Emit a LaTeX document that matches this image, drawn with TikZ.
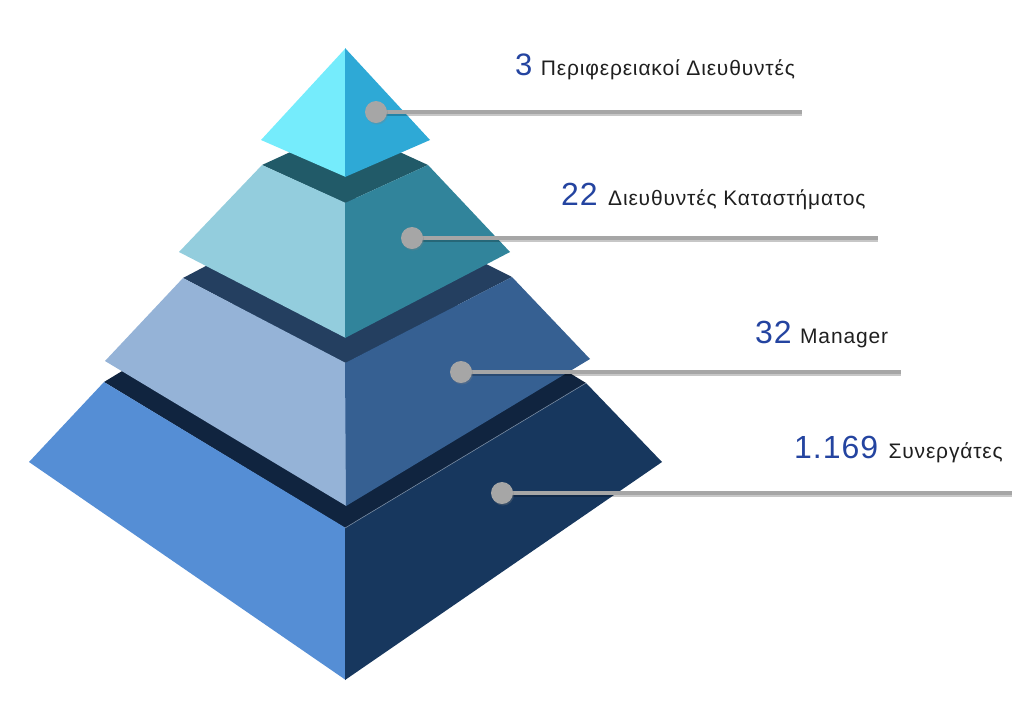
\documentclass[tikz,border=0pt]{standalone}
\usepackage{fontspec}
\setmainfont{Liberation Sans}
\newfontfamily\lblfont[LetterSpace=4]{Liberation Sans}
\newfontfamily\numfont[LetterSpace=3]{Liberation Sans}
\usetikzlibrary{shadows}
\definecolor{tAl}{HTML}{75ECFC}
\definecolor{tAr}{HTML}{2EA9D6}
\definecolor{tBt}{HTML}{215A68}
\definecolor{tBl}{HTML}{93CDDD}
\definecolor{tBr}{HTML}{31849B}
\definecolor{tCt}{HTML}{243F60}
\definecolor{tCl}{HTML}{95B3D7}
\definecolor{tCr}{HTML}{366092}
\definecolor{tDt}{HTML}{10243F}
\definecolor{tDl}{HTML}{558ED5}
\definecolor{tDr}{HTML}{17375E}
\definecolor{numblue}{HTML}{2444A0}
\definecolor{leader}{HTML}{A6A6A6}
\begin{document}
\begin{tikzpicture}[x=1pt,y=-1pt,
  dot/.style={circle,fill=leader,minimum size=22pt,inner sep=0pt,
    drop shadow={opacity=0.3,shadow xshift=1pt,shadow yshift=-1.5pt}},
  leaderline/.style={draw=leader,line width=4pt},
  leadershadow/.style={draw=black,opacity=0.22,line width=4pt},
  numtxt/.style={font=\numfont\fontsize{32}{32}\selectfont,text=numblue,inner sep=0pt,anchor=base west},
  lbltxt/.style={font=\lblfont\fontsize{21}{21}\selectfont,text=black!88,inner sep=0pt,anchor=base west}]
\useasboundingbox (0,0) rectangle (1024,702);
% tier 4
\fill[tDt] (104,382) -- (345,236) -- (586,383) -- (345,528) -- cycle;
\fill[tDl] (104,382) -- (345.8,528) -- (345.8,680) -- (29,462) -- cycle;
\fill[tDr] (345,528) -- (586,383) -- (662,462) -- (345,680) -- cycle;
\draw[tDr!60!white,line width=0.6pt] (345,528) -- (586,383);
% tier 3
\fill[tCt] (183,278) -- (345,193) -- (512,277) -- (345,363) -- cycle;
\fill[tCl] (183,278) -- (345.8,363) -- (346.3,506) -- (105,361) -- cycle;
\fill[tCr] (345,363) -- (512,277) -- (590,359) -- (346,506) -- cycle;
% tier 2
\fill[tBt] (262,165) -- (345,127) -- (428,165) -- (345,203) -- cycle;
\fill[tBl] (262,165) -- (345.8,203) -- (345.8,338) -- (179,252) -- cycle;
\fill[tBr] (345,203) -- (428,165) -- (510,252) -- (345,338) -- cycle;
% tier 1
\fill[tAl] (345.8,48) -- (345.8,177) -- (261,140) -- cycle;
\fill[tAr] (345,48) -- (430,140) -- (345,177) -- cycle;
% leaders
\coordinate (e1) at (802,112);
\coordinate (e2) at (878,238);
\coordinate (e3) at (901,372);
\coordinate (e4) at (1012,493);
\coordinate (s1) at (376,112);
\coordinate (s2) at (412,238);
\coordinate (s3) at (461,372);
\coordinate (s4) at (502,493);
\foreach \i in {1,...,4}{
  \draw[leadershadow] ([yshift=-1.8pt]s\i) -- ([yshift=-1.8pt]e\i);
  \draw[leaderline] (s\i) -- (e\i);
}
\node[dot] (c1) at (s1) {};
\node[dot] (c2) at (s2) {};
\node[dot] (c3) at (s3) {};
\node[dot] (c4) at (s4) {};
% texts
\node[numtxt,font=\numfont\fontsize{31}{31}\selectfont] (n1) at (515,75) {3};
\node[lbltxt] (l1) at ([xshift=8pt]n1.base east) {Περιφερειακοί Διευθυντές};
\node[numtxt] (n2) at (561,205) {22};
\node[lbltxt] (l2) at ([xshift=10pt]n2.base east) {Διευθυντές Καταστήματος};
\node[numtxt] (n3) at (755,343) {32};
\node[lbltxt] (l3) at ([xshift=8pt]n3.base east) {Manager};
\node[numtxt] (n4) at (794,458) {1.169};
\node[lbltxt] (l4) at ([xshift=10pt]n4.base east) {Συνεργάτες};
\end{tikzpicture}
\end{document}
